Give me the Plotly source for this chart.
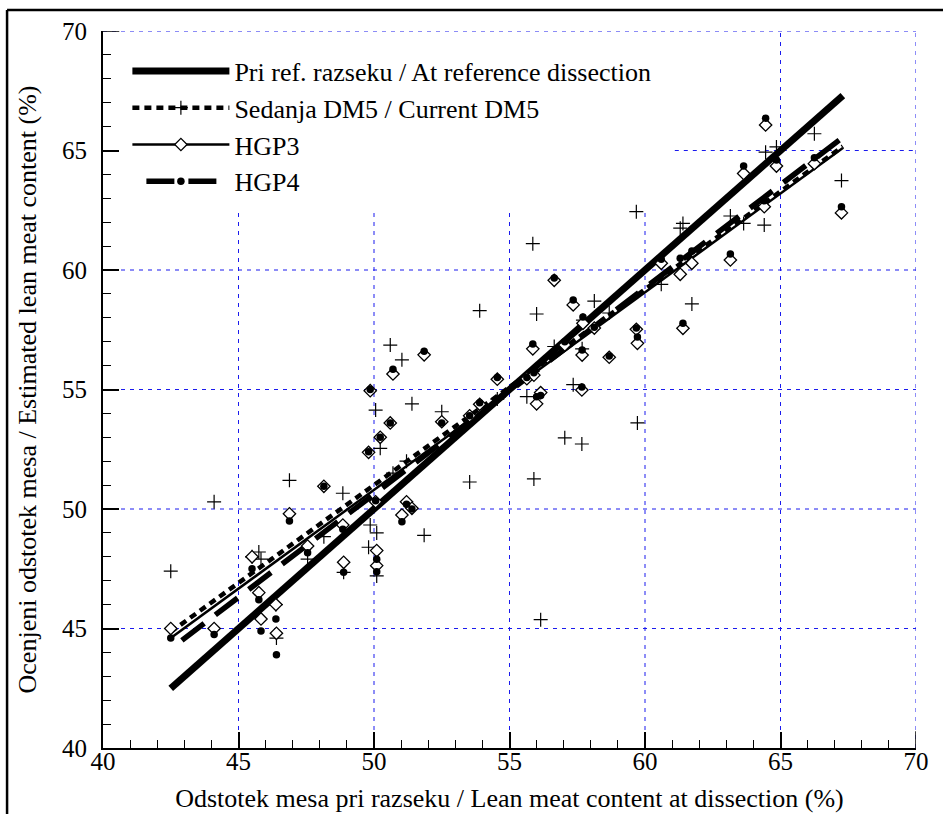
import plotly.graph_objects as go

# ---------------- data ----------------
# lean meat content at dissection (%) for each carcass
LEAN_DISSECTION = [42.5, 44.1, 45.5, 45.75, 45.83, 46.38, 46.4, 46.88, 47.55, 48.15,
                   48.85, 48.88, 49.8, 49.86, 50.06, 50.1, 50.1, 50.23, 50.6, 50.7,
                   51.03, 51.2, 51.4, 51.85, 52.5, 53.53, 53.9, 54.55, 55.64, 55.86,
                   55.9, 56.0, 56.15, 56.65, 57.04, 57.35, 57.67, 57.68, 57.71, 58.13,
                   58.68, 59.68, 59.72, 60.6, 61.3, 61.4, 61.73, 63.15, 63.64, 64.4,
                   64.45, 64.85, 66.25, 67.25]
# estimated lean meat content (%)
EST_DM5 = [47.4, 50.3, 48.0, 48.2, 47.9, 46.0, 44.6, 51.2, 47.9, 48.84,
           50.66, 47.35, 48.4, 49.33, 54.14, 49.0, 47.2, 52.54, 56.86, 51.5,
           56.24, 52.0, 54.4, 48.9, 54.07, 51.13, 58.3, 54.6, 54.7, 61.1,
           51.26, 58.16, 45.37, 56.8, 52.98, 55.2, 52.72, 56.7, 57.9, 58.7,
           58.2, 62.44, 53.6, 59.4, 61.75, 61.95, 58.58, 62.26, 61.95, 61.88,
           64.93, 65.15, 65.7, 63.74]
EST_HGP3 = [45.0, 45.0, 48.0, 46.5, 45.4, 46.0, 44.8, 49.8, 48.45, 50.95,
            49.33, 47.77, 52.37, 54.95, 50.3, 48.26, 47.63, 53.0, 53.6, 55.65,
            49.75, 50.3, 50.03, 56.45, 53.65, 53.9, 54.38, 55.43, 55.45, 56.7,
            55.6, 54.4, 54.87, 59.57, 56.86, 58.54, 54.98, 56.44, 57.77, 57.57,
            56.35, 57.52, 56.93, 60.28, 59.82, 57.56, 60.28, 60.42, 64.04, 62.65,
            66.07, 64.35, 64.45, 62.39]
EST_HGP4 = [44.6, 44.75, 47.5, 46.2, 44.9, 45.4, 43.9, 49.5, 48.17, 50.95,
            49.15, 47.35, 52.4, 55.0, 50.35, 47.9, 47.37, 53.0, 53.6, 55.85,
            49.47, 50.2, 50.0, 56.6, 53.6, 53.9, 54.45, 55.5, 55.5, 56.9,
            55.7, 54.7, 54.75, 59.67, 57.0, 58.74, 55.1, 56.65, 58.03, 57.6,
            56.4, 57.57, 57.2, 60.45, 60.49, 57.77, 60.8, 60.67, 64.35, 62.9,
            66.35, 64.6, 64.7, 62.65]

# fitted lines (end points)
FIT_X = [42.5, 67.3]
FIT_REF = [42.5, 67.3]
FIT_DM5 = [44.86, 65.17]
FIT_HGP3 = [44.6, 65.1]
FIT_HGP4 = [44.15, 65.55]

NAMES = ["Pri ref. razseku / At reference dissection",
         "Sedanja DM5 / Current DM5",
         "HGP3",
         "HGP4"]

X_TITLE = "Odstotek mesa pri razseku / Lean meat content at dissection (%)"
Y_TITLE = "Ocenjeni odstotek mesa / Estimated lean meat content (%)"

AX_RANGE = [40, 70]
GRID_VALS = [45, 50, 55, 60, 65, 70]
# region hidden behind the legend box (grid not drawn there)
MASK_X1, MASK_Y0 = 61.1, 62.5

# ---------------- styles ----------------
FONT = "Liberation Serif, DejaVu Serif, serif"
BLUE = "#1a1aee"
ref_line = dict(color="black", width=7)
dm5_line = dict(color="black", width=4.5, dash="7px,5px")
hgp3_line = dict(color="black", width=2.5)
hgp4_line = dict(color="black", width=5.5, dash="0px,14px,28px,0px")
cross_m = dict(symbol="cross-thin-open", size=10, color="black",
               line=dict(color="black", width=1.2))
diam_m = dict(symbol="diamond", size=9.5, color="white",
              line=dict(color="black", width=1.3))
dot_m = dict(symbol="circle", size=7.5, color="black",
             line=dict(color="black", width=0))

fig = go.Figure()

# fitted lines
fig.add_trace(go.Scatter(x=FIT_X, y=FIT_REF, mode="lines", line=ref_line,
                         showlegend=False, hoverinfo="skip"))
fig.add_trace(go.Scatter(x=FIT_X, y=FIT_DM5, mode="lines", line=dm5_line,
                         showlegend=False, hoverinfo="skip"))
fig.add_trace(go.Scatter(x=FIT_X, y=FIT_HGP3, mode="lines", line=hgp3_line,
                         showlegend=False, hoverinfo="skip"))
fig.add_trace(go.Scatter(x=FIT_X, y=FIT_HGP4, mode="lines", line=hgp4_line,
                         showlegend=False, hoverinfo="skip"))

# points
fig.add_trace(go.Scatter(x=LEAN_DISSECTION, y=EST_DM5, mode="markers",
                         marker=cross_m, showlegend=False))
fig.add_trace(go.Scatter(x=LEAN_DISSECTION, y=EST_HGP3, mode="markers",
                         marker=diam_m, showlegend=False))
fig.add_trace(go.Scatter(x=LEAN_DISSECTION, y=EST_HGP4, mode="markers",
                         marker=dot_m, showlegend=False))

# legend entries
fig.add_trace(go.Scatter(x=[None], y=[None], mode="lines", line=ref_line, name=NAMES[0]))
fig.add_trace(go.Scatter(x=[None], y=[None], mode="lines+markers", line=dm5_line,
                         marker=cross_m, name=NAMES[1]))
fig.add_trace(go.Scatter(x=[None], y=[None], mode="lines+markers", line=hgp3_line,
                         marker=diam_m, name=NAMES[2]))
fig.add_trace(go.Scatter(x=[None], y=[None], mode="lines+markers", line=hgp4_line,
                         marker=dot_m, name=NAMES[3]))

# grid lines (partly hidden by the legend area)
shapes = []
for v in GRID_VALS:
    top = MASK_Y0 if v < MASK_X1 else AX_RANGE[1]
    shapes.append(dict(type="line", xref="x", yref="y", x0=v, x1=v,
                       y0=AX_RANGE[0], y1=top, layer="below",
                       line=dict(color=BLUE, width=1, dash="4px,5px")))
    left = MASK_X1 if (MASK_Y0 < v < AX_RANGE[1]) else AX_RANGE[0]
    shapes.append(dict(type="line", xref="x", yref="y", x0=left, x1=AX_RANGE[1],
                       y0=v, y1=v, layer="below",
                       line=dict(color=BLUE, width=1, dash="4px,5px")))
# major ticks at the far ends of the axes
shapes.append(dict(type="line", xref="x", yref="y", x0=AX_RANGE[0], x1=AX_RANGE[0] + 0.6,
                   y0=AX_RANGE[1], y1=AX_RANGE[1], line=dict(color="black", width=1.5)))
shapes.append(dict(type="line", xref="x", yref="y", x0=AX_RANGE[1], x1=AX_RANGE[1],
                   y0=AX_RANGE[0], y1=AX_RANGE[0] + 0.7, line=dict(color="black", width=1.5)))
# outer frame of the picture (top and left edges)
shapes.append(dict(type="line", xref="paper", yref="paper", x0=-0.118, x1=1.1,
                   y0=1.0293, y1=1.0293, line=dict(color="black", width=2.5)))
shapes.append(dict(type="line", xref="paper", yref="paper", x0=-0.118, x1=-0.118,
                   y0=-0.1, y1=1.0293, line=dict(color="black", width=2.5)))

axis_common = dict(
    range=AX_RANGE, dtick=5, tick0=40, showgrid=False, zeroline=False,
    showline=True, linecolor="black", linewidth=2, automargin=False,
    ticks="inside", ticklen=16, tickwidth=1.5, tickcolor="black",
    minor=dict(dtick=1, ticks="inside", ticklen=8, tickwidth=1.2,
               tickcolor="black", showgrid=False),
    tickfont=dict(family=FONT, size=25, color="black"),
)

fig.update_layout(
    width=943, height=814,
    margin=dict(l=103, r=27, t=31, b=66, autoexpand=False),
    paper_bgcolor="white", plot_bgcolor="white",
    font=dict(family=FONT, size=26, color="black"),
    xaxis=dict(axis_common, ticklabelstandoff=-10,
               title=dict(text=X_TITLE, standoff=15, font=dict(family=FONT, size=26))),
    yaxis=dict(axis_common, ticklabelstandoff=9,
               title=dict(text=Y_TITLE, standoff=18, font=dict(family=FONT, size=26))),
    legend=dict(x=0.03, y=0.977, xanchor="left", yanchor="top",
                bgcolor="rgba(0,0,0,0)", borderwidth=0,
                font=dict(family=FONT, size=26, color="black"),
                itemwidth=97, tracegroupgap=0),
    shapes=shapes,
    showlegend=True,
)

fig.write_html("out.html")
